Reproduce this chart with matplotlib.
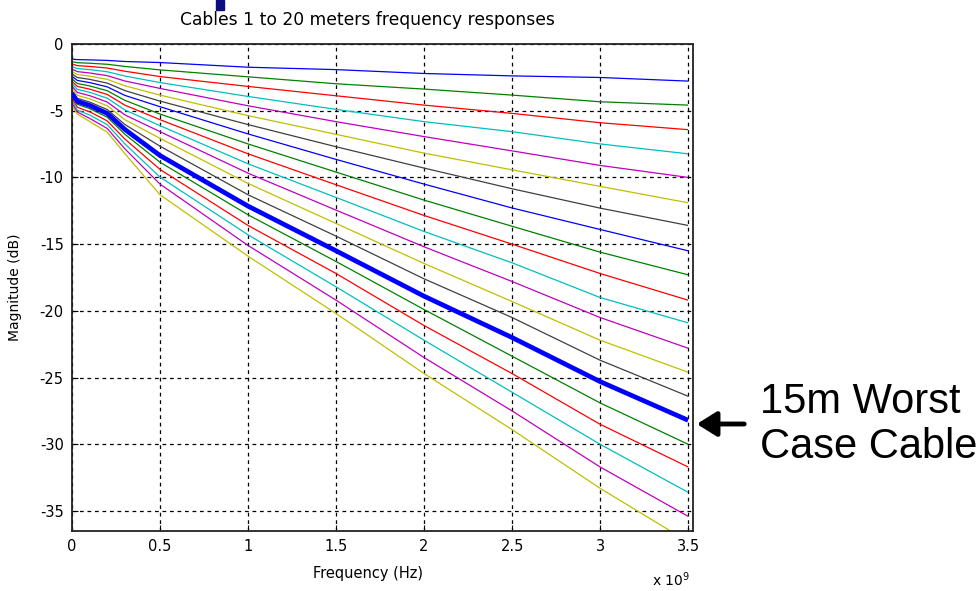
import matplotlib
matplotlib.use("Agg")
import matplotlib.pyplot as plt
from matplotlib.patches import Rectangle, FancyArrowPatch
from matplotlib.ticker import FuncFormatter
import numpy as np

plt.rcParams['font.family'] = ['DejaVu Sans']
plt.rcParams['axes.unicode_minus'] = False

# Frequency sample points (GHz) at which the curves were read
freq_ghz = [0.0, 0.03, 0.1, 0.2, 0.3, 0.5, 1.0, 1.5, 2.0, 2.5, 3.0, 3.5]

# Magnitude (dB) of each cable, 1 m ... 20 m
cable_01 = [-1.13, -1.17, -1.19, -1.23, -1.31, -1.39, -1.74, -1.92, -2.21, -2.39, -2.51, -2.78]
cable_02 = [-1.32, -1.40, -1.44, -1.52, -1.68, -1.94, -2.46, -2.98, -3.38, -3.83, -4.33, -4.58]
cable_03 = [-1.50, -1.62, -1.68, -1.80, -2.04, -2.44, -3.18, -3.88, -4.58, -5.20, -5.90, -6.42]
cable_04 = [-1.69, -1.84, -1.92, -2.08, -2.40, -2.89, -3.93, -4.90, -5.82, -6.57, -7.49, -8.23]
cable_05 = [-1.87, -2.07, -2.17, -2.37, -2.77, -3.33, -4.63, -5.82, -6.94, -8.01, -9.10, -10.0]
cable_06 = [-2.05, -2.29, -2.41, -2.65, -3.13, -3.83, -5.37, -6.77, -8.18, -9.43, -10.67, -11.9]
cable_07 = [-2.24, -2.51, -2.65, -2.93, -3.49, -4.28, -6.04, -7.70, -9.30, -10.85, -12.3, -13.6]
cable_08 = [-2.42, -2.73, -2.89, -3.21, -3.85, -4.70, -6.74, -8.65, -10.50, -12.29, -13.9, -15.5]
cable_09 = [-2.61, -2.96, -3.14, -3.50, -4.22, -5.25, -7.49, -9.60, -11.70, -13.66, -15.6, -17.3]
cable_10 = [-2.79, -3.18, -3.38, -3.78, -4.58, -5.67, -8.23, -10.55, -12.85, -15.0, -17.2, -19.2]
cable_11 = [-2.97, -3.40, -3.62, -4.06, -4.94, -6.12, -8.98, -11.50, -14.05, -16.4, -19.0, -20.9]
cable_12 = [-3.16, -3.63, -3.87, -4.35, -5.31, -6.57, -9.68, -12.45, -15.20, -17.8, -20.5, -22.8]
cable_13 = [-3.34, -3.85, -4.11, -4.63, -5.67, -7.07, -10.45, -13.45, -16.45, -19.3, -22.2, -24.6]
cable_14 = [-3.53, -4.07, -4.35, -4.91, -6.03, -7.66, -11.3, -14.40, -17.60, -20.5, -23.7, -26.4]
cable_15 = [-3.71, -4.30, -4.60, -5.20, -6.40, -8.36, -12.15, -15.50, -18.90, -22.0, -25.3, -28.2]
cable_16 = [-3.89, -4.52, -4.84, -5.48, -6.76, -8.86, -12.8, -16.30, -19.90, -23.4, -26.9, -30.0]
cable_17 = [-4.08, -4.74, -5.08, -5.76, -7.12, -9.40, -13.6, -17.20, -21.10, -24.7, -28.5, -31.7]
cable_18 = [-4.26, -4.96, -5.32, -6.04, -7.48, -9.98, -14.3, -18.20, -22.20, -26.1, -30.0, -33.6]
cable_19 = [-4.45, -5.10, -5.57, -6.33, -7.85, -10.5, -15.1, -19.20, -23.50, -27.5, -31.7, -35.4]
cable_20 = [-4.63, -5.25, -5.81, -6.61, -8.21, -11.3, -15.9, -20.20, -24.70, -28.9, -33.3, -37.3]

cables = [cable_01, cable_02, cable_03, cable_04, cable_05, cable_06, cable_07,
          cable_08, cable_09, cable_10, cable_11, cable_12, cable_13, cable_14,
          cable_15, cable_16, cable_17, cable_18, cable_19, cable_20]

worst_case_index = 14  # 15 m cable
title_text = "Cables 1 to 20 meters frequency responses"
xtick_vals = [0, 0.5, 1, 1.5, 2, 2.5, 3, 3.5]
ytick_vals = [0, -5, -10, -15, -20, -25, -30, -35]

matlab_colors = [(0, 0, 1), (0, 0.5, 0), (1, 0, 0), (0, 0.75, 0.75),
                 (0.75, 0, 0.75), (0.75, 0.75, 0), (0.25, 0.25, 0.25)]

fig = plt.figure(figsize=(9.8, 5.91), dpi=100)
ax = fig.add_axes([72 / 980, 1 - 531 / 591, (692.5 - 72) / 980, (531 - 44) / 591])

freq_hz = np.array(freq_ghz) * 1e9
for i, vals in enumerate(cables):
    col = matlab_colors[i % len(matlab_colors)]
    lw = 3.4 if i == worst_case_index else 0.9
    ax.plot(freq_hz, vals, color=col, lw=lw, zorder=3 if i == worst_case_index else 2,
            solid_joinstyle='round', solid_capstyle='butt')

ax.set_xlim(0, 3.525e9)
ax.set_ylim(-36.5, 0)
ax.set_xticks([v * 1e9 for v in xtick_vals])
ax.xaxis.set_major_formatter(FuncFormatter(lambda v, p: f"{v / 1e9:g}"))
ax.set_yticks(ytick_vals)
ax.tick_params(direction='in', length=4, labelsize=10.5, pad=6, colors='black')
ax.grid(True, color='black', linestyle=(0, (3, 3)), linewidth=0.9)
for s in ax.spines.values():
    s.set_linewidth(1.3)
    s.set_color('#222222')

fig.text(367 / 980, 1 - 20 / 591, title_text, fontsize=12.3, ha='center', va='center')
ax.set_xlabel("Frequency (Hz)", fontsize=10.5)
ax.xaxis.set_label_coords((368 - 72) / (692.5 - 72), -0.072)
ax.set_ylabel("Magnitude (dB)", fontsize=10)
ax.yaxis.set_label_coords(-0.08, 0.5)
fig.text(690 / 980, 1 - 580 / 591, r"x 10$^9$", fontsize=10, ha='right', va='center')

# small navy marker above the title
fig.patches.append(Rectangle((216 / 980, 1 - 10 / 591), 8 / 980, 10 / 591,
                             transform=fig.transFigure, color=(0.05, 0.05, 0.5)))

# annotation
fig.text(760 / 980, 1 - 402 / 591, "15m Worst", fontsize=30, ha='left', va='center',
         family='Liberation Sans')
fig.text(760 / 980, 1 - 447 / 591, "Case Cable", fontsize=30, ha='left', va='center',
         family='Liberation Sans')
arrow = FancyArrowPatch((747 / 980, 1 - 424 / 591), (694 / 980, 1 - 424 / 591),
                        transform=fig.transFigure, arrowstyle='-|>,head_length=8,head_width=5',
                        color='black', lw=3.5, mutation_scale=1.5)
fig.patches.append(arrow)

fig.savefig("out.png", dpi=100, facecolor='white')
